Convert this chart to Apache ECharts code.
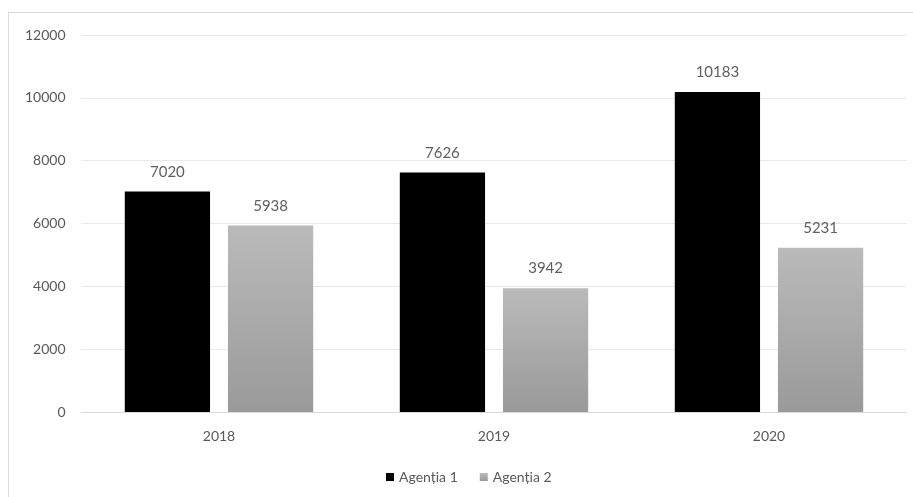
<!DOCTYPE html>
<html>
<head>
<meta charset="utf-8">
<script src="https://cdn.jsdelivr.net/npm/echarts@6/dist/echarts.min.js"></script>
<style>
  html, body { margin: 0; padding: 0; background: #fff; }
  #frame { position: absolute; left: 8px; top: 12px; width: 920px; height: 500px; border: 1px solid #d9d9d9; box-sizing: border-box; }
  #chart { position: absolute; left: 0; top: 0; width: 913px; height: 497px; }
</style>
</head>
<body>
<div id="frame"></div>
<div id="chart"></div>
<script>
const years = ['2018', '2019', '2020'];
const agentia1 = [7020, 7626, 10183];
const agentia2 = [5938, 3942, 5231];
const yTicks = [0, 2000, 4000, 6000, 8000, 10000, 12000];

const font = 'Lato, "Liberation Sans", sans-serif';
const chart = echarts.init(document.getElementById('chart'));
chart.setOption({
  animation: false,
  textStyle: { fontFamily: font },
  grid: { left: 81.5, right: 6.5, top: 35, bottom: 85 },
  legend: {
    bottom: 8,
    left: 381,
    itemWidth: 8,
    itemHeight: 8,
    itemGap: 22,
    icon: 'rect',
    textStyle: { color: '#595959', fontSize: 14, fontFamily: font },
    data: ['Agenția 1', 'Agenția 2']
  },
  xAxis: {
    type: 'category',
    data: years,
    axisLine: { lineStyle: { color: '#d9d9d9' } },
    axisTick: { show: false },
    axisLabel: { color: '#595959', fontSize: 14, margin: 17 }
  },
  yAxis: {
    type: 'value',
    min: yTicks[0],
    max: yTicks[yTicks.length - 1],
    interval: 2000,
    axisLine: { show: false },
    axisTick: { show: false },
    axisLabel: { color: '#595959', fontSize: 14, margin: 16, formatter: v => String(v) },
    splitLine: { lineStyle: { color: '#e8e8e8' } }
  },
  series: [
    {
      name: 'Agenția 1',
      type: 'bar',
      data: agentia1,
      barWidth: '31%',
      barGap: '21%',
      itemStyle: { color: '#000000' },
      label: { show: true, position: 'top', distance: 12, color: '#5f5f5f', fontSize: 15 }
    },
    {
      name: 'Agenția 2',
      type: 'bar',
      data: agentia2,
      barWidth: '31%',
      itemStyle: {
        color: new echarts.graphic.LinearGradient(0, 0, 0, 1, [
          { offset: 0, color: '#bababa' },
          { offset: 1, color: '#9a9a9a' }
        ])
      },
      label: { show: true, position: 'top', distance: 12, color: '#5f5f5f', fontSize: 15 }
    }
  ]
});
</script>
</body>
</html>
